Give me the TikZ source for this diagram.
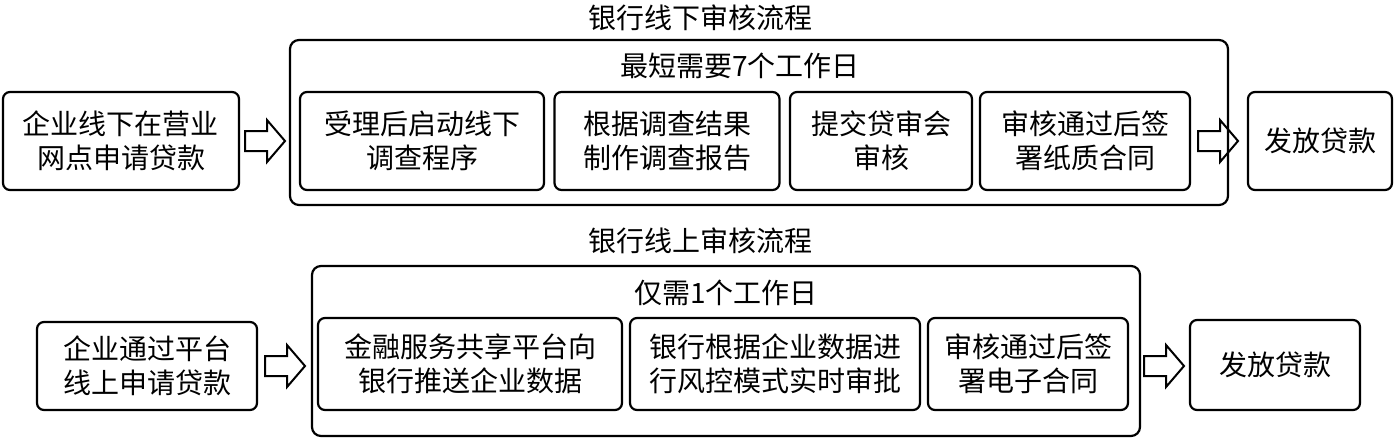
\documentclass[tikz,border=0pt]{standalone}
\usepackage{fontspec}
\setmainfont{Noto Sans CJK SC}
\begin{document}
\begin{tikzpicture}[x=1pt,y=-1pt,
  bx/.style={draw,line width=2.2pt,rounded corners=7pt,align=center,font=\fontsize{28}{34}\selectfont,inner sep=0pt},
  big/.style={draw,line width=2.2pt,rounded corners=9pt},
  ttl/.style={font=\fontsize{28}{34}\selectfont},
  arr/.style={draw,line width=2pt,line join=miter},
  pics/blockarrow/.style={code={\draw[arr] (-20,-10) -- (2,-10) -- (2,-21) -- (20,0) -- (2,21) -- (2,10) -- (-20,10) -- cycle;}}]
\useasboundingbox (0,0) rectangle (1400,439);
% top
\node[ttl] (t1) at (700,18) {银行线下审核流程};
\draw[big] (290,40) rectangle (1228,205);
\node[ttl] (s1) at (740,66) {最短需要7个工作日};
\node[bx,minimum width=236pt,minimum height=98pt] (a0) at (121,141) {企业线下在营业\\网点申请贷款};
\node[bx,minimum width=244pt,minimum height=98pt] (a1) at (422,141) {受理后启动线下\\调查程序};
\node[bx,minimum width=225pt,minimum height=98pt] (a2) at (667,141) {根据调查结果\\制作调查报告};
\node[bx,minimum width=182pt,minimum height=98pt] (a3) at (881,141) {提交贷审会\\审核};
\node[bx,minimum width=210pt,minimum height=98pt] (a4) at (1085,141) {审核通过后签\\署纸质合同};
\node[bx,minimum width=144pt,minimum height=98pt] (a5) at (1320,141) {发放贷款};
\pic at (265,141) {blockarrow};
\pic at (1218,141) {blockarrow};
% bottom
\node[ttl] (t2) at (700,241) {银行线上审核流程};
\draw[big] (312,266) rectangle (1140,436);
\node[ttl] (s2) at (726,293) {仅需1个工作日};
\node[bx,minimum width=220pt,minimum height=88pt] (b0) at (147,366) {企业通过平台\\线上申请贷款};
\node[bx,minimum width=304pt,minimum height=92pt] (b1) at (470,364) {金融服务共享平台向\\银行推送企业数据};
\node[bx,minimum width=290pt,minimum height=92pt] (b2) at (775,364) {银行根据企业数据进\\行风控模式实时审批};
\node[bx,minimum width=200pt,minimum height=92pt] (b3) at (1028,364) {审核通过后签\\署电子合同};
\node[bx,minimum width=170pt,minimum height=90pt] (b4) at (1275,365) {发放贷款};
\pic at (285,366) {blockarrow};
\pic at (1164,366) {blockarrow};
\end{tikzpicture}
\end{document}
